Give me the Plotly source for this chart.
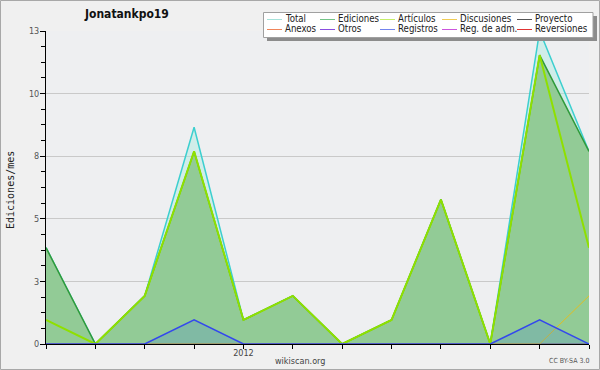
import plotly.graph_objects as go

# ---------------- data ----------------
months = ["2011-09", "2011-10", "2011-11", "2011-12", "2012-01", "2012-02",
          "2012-03", "2012-04", "2012-05", "2012-06", "2012-07", "2012-08"]
total = [4, 0, 2, 9, 1, 2, 0, 1, 6, 0, 13, 8]
ediciones = [4, 0, 2, 8, 1, 2, 0, 1, 6, 0, 12, 8]
articulos = [1, 0, 2, 8, 1, 2, 0, 1, 6, 0, 12, 4]
discusiones = [0, 0, 0, 0, 0, 0, 0, 0, 0, 0, 0, 2]
proyecto = [0] * 12
anexos = [0] * 12
otros = [0] * 12
registros = [0, 0, 0, 1, 0, 0, 0, 0, 0, 0, 1, 0]
reg_adm = [0] * 12
reversiones = [0] * 12

y_tickvals = [0, 2.6, 5.2, 7.8, 10.4, 13]
y_ticktext = ["0", "3", "5", "8", "10", "13"]
x_ticktext = ["2012" if m == "2012-01" else "" for m in months]

legend_rows = [["Total", "Ediciones", "Artículos", "Discusiones", "Proyecto"],
               ["Anexos", "Otros", "Registros", "Reg. de adm.", "Reversiones"]]
legend_colors = [["#a6e2da", "#74c487", "#c6ee6a", "#f0cc55", "#555555"],
                 ["#f0855a", "#8a4ee0", "#7384ee", "#cc55dd", "#e03434"]]

FONT = "DejaVu Sans Condensed, Liberation Sans Narrow, DejaVu Sans, sans-serif"

# ---------------- geometry ----------------
W, H = 600, 370
L, R, T, B = 46, 11, 31, 26
PW, PH = W - L - R, H - T - B


def px(x):
    return (x - L) / PW


def py(y):
    return (H - B - y) / PH


fig = go.Figure()

fig.add_trace(go.Scatter(x=months, y=total, mode="lines", fill="tozeroy",
                         line=dict(color="#3ccfcf", width=1.5),
                         fillcolor="rgba(170,235,225,0.45)", showlegend=False))
fig.add_trace(go.Scatter(x=months, y=ediciones, mode="lines", fill="tozeroy",
                         line=dict(color="#2f9a3a", width=1.5),
                         fillcolor="rgb(146,203,150)", showlegend=False))
fig.add_trace(go.Scatter(x=months, y=articulos, mode="lines",
                         line=dict(color="#8fe000", width=2), showlegend=False))
for series in (proyecto, anexos, otros, reg_adm, reversiones):
    fig.add_trace(go.Scatter(x=months, y=series, mode="lines",
                             line=dict(color="#888888", width=1), showlegend=False))
fig.add_trace(go.Scatter(x=months, y=discusiones, mode="lines",
                         line=dict(color="#e0be22", width=1), showlegend=False))
fig.add_trace(go.Scatter(x=months, y=registros, mode="lines", fill="tozeroy",
                         line=dict(color="#3347ee", width=1.5),
                         fillcolor="rgba(60,120,220,0.2)", showlegend=False))

shapes = []
annotations = []

# outer border
shapes.append(dict(type="rect", xref="paper", yref="paper",
                   x0=px(0.5), x1=px(W - 0.5), y0=py(0.5), y1=py(H - 0.5),
                   line=dict(color="#a8a8a8", width=1), layer="below"))

# legend box with shadow
shapes.append(dict(type="rect", xref="paper", yref="paper",
                   x0=px(267), x1=px(597), y0=py(16), y1=py(41),
                   fillcolor="#8c8c8c", line=dict(width=0), layer="above"))
shapes.append(dict(type="rect", xref="paper", yref="paper",
                   x0=px(263.5), x1=px(593), y0=py(12.5), y1=py(37.5),
                   fillcolor="white", line=dict(color="#a0a0a0", width=1), layer="above"))

col_x = [267, 320, 380, 442, 517]
row_y = [19.5, 29.5]
for r, names in enumerate(legend_rows):
    for c, name in enumerate(names):
        x0 = col_x[c]
        shapes.append(dict(type="line", xref="paper", yref="paper",
                           x0=px(x0), x1=px(x0 + 15), y0=py(row_y[r]), y1=py(row_y[r]),
                           line=dict(color=legend_colors[r][c], width=1), layer="above"))
        annotations.append(dict(text=name, xref="paper", yref="paper",
                                x=px(x0 + 17), y=py(row_y[r] - 0.5), xanchor="left",
                                yanchor="middle", showarrow=False, borderpad=0,
                                font=dict(family=FONT, size=9.6, color="#222222")))

# title
annotations.append(dict(text="<b>Jonatankpo19</b>", xref="paper", yref="paper",
                        x=px(126), y=py(14), xanchor="center", yanchor="middle",
                        showarrow=False,
                        font=dict(family=FONT, size=12, color="#111111")))
# y axis title
annotations.append(dict(text="Ediciones/mes", xref="paper", yref="paper",
                        x=px(10), y=py(190), xanchor="center", yanchor="middle",
                        textangle=-90, showarrow=False,
                        font=dict(family="DejaVu Sans Mono, monospace", size=10,
                                  color="#222222")))
# footer texts
annotations.append(dict(text="wikiscan.org", xref="paper", yref="paper",
                        x=px(300), y=py(360.5), xanchor="center", yanchor="middle",
                        showarrow=False,
                        font=dict(family=FONT, size=9, color="#444444")))
annotations.append(dict(text="CC BY-SA 3.0", xref="paper", yref="paper",
                        x=px(569), y=py(361.5), xanchor="center", yanchor="middle",
                        showarrow=False,
                        font=dict(family=FONT, size=7, color="#555555")))

fig.update_layout(
    width=W, height=H,
    margin=dict(l=L, r=R, t=T, b=B, pad=0, autoexpand=False),
    paper_bgcolor="#f0f0f0",
    plot_bgcolor="#eeeff1",
    showlegend=False,
    shapes=shapes,
    annotations=annotations,
    xaxis=dict(type="category", range=[0, len(months) - 1], automargin=False,
               tickmode="array", tickvals=months, ticktext=x_ticktext,
               ticks="outside", ticklen=4, tickcolor="black", tickwidth=1,
               ticklabelstandoff=-4,
               showline=True, linecolor="black", linewidth=1,
               showgrid=False, zeroline=False,
               tickfont=dict(family=FONT, size=9, color="#444444"),
               fixedrange=True),
    yaxis=dict(range=[0, 13], tickmode="array", tickvals=y_tickvals,
               ticktext=y_ticktext, automargin=False,
               ticks="outside", ticklen=5, tickcolor="black", tickwidth=1,
               ticklabelstandoff=-1,
               showline=True, linecolor="black", linewidth=1,
               showgrid=True, gridcolor="#c9c9c9", gridwidth=1,
               zeroline=False,
               minor=dict(tick0=0, dtick=0.65, ticks="outside", ticklen=4,
                          tickcolor="black", showgrid=False),
               tickfont=dict(family=FONT, size=9, color="#555555"),
               fixedrange=True),
)

fig.write_html("out.html", config={"displayModeBar": False},
               post_script="document.body.style.margin='0';document.body.style.overflow='hidden';")
